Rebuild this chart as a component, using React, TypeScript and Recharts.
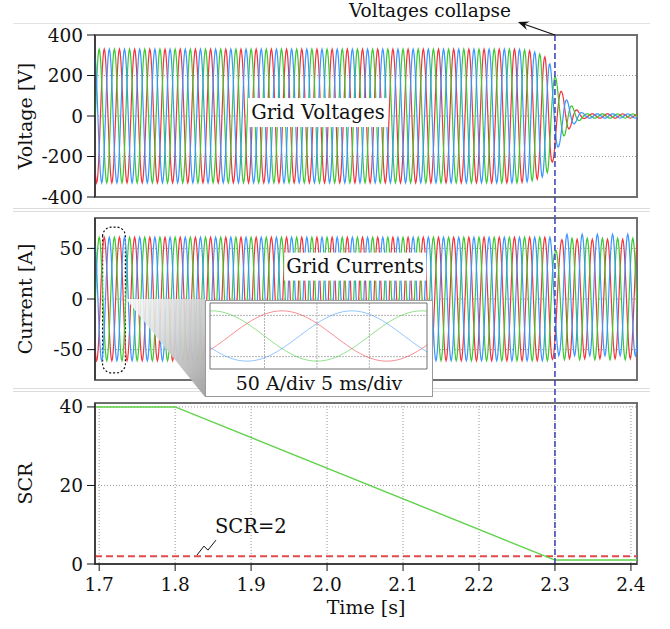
import {
  CartesianGrid,
  Line,
  LineChart,
  ReferenceArea,
  ReferenceDot,
  ReferenceLine,
  XAxis,
  YAxis,
} from "recharts";

const serif = "'DejaVu Serif', serif";
const red = "#f0353f";
const green = "#3cc832";
const blue = "#3a95ff";
const ink = "#111";
const gridGrey = "#9a9a9a";
const frameGrey = "#707070";
const dashBlue = "#3542b0";

// time axis
const tDomain: [number, number] = [1.6945, 2.408];
const timeTicks = [1.7, 1.8, 1.9, 2.0, 2.1, 2.2, 2.3, 2.4];
const voltTicks = [-400, -200, 0, 200, 400];
const currTicks = [-50, 0, 50];
const scrTicks = [0, 20, 40];
const collapseTime = 2.3;

// one 50 Hz cycle as a unit wave, 24 samples (green phase starts here, red +1/3, blue +2/3)
const cycleShape = [
  0, 0.259, 0.5, 0.707, 0.866, 0.966, 1, 0.966, 0.866, 0.707, 0.5, 0.259,
  0, -0.259, -0.5, -0.707, -0.866, -0.966, -1, -0.966, -0.866, -0.707, -0.5, -0.259,
];
const cycleStart = 1.695;
const cycleLen = 0.02;
const sampleCount = 860;

// voltage envelope
const voltEnvTime = [1.695, 2.25, 2.265, 2.275, 2.285, 2.29, 2.295, 2.3, 2.305, 2.31, 2.315, 2.32, 2.325, 2.33, 2.335, 2.34, 2.41];
const voltEnvAmp = [330, 330, 324, 314, 298, 280, 245, 200, 150, 112, 82, 58, 40, 27, 17, 11, 10];

// current envelopes per phase
const currEnvTime = [1.695, 2.296, 2.3, 2.305, 2.31, 2.316, 2.41];
const currRedAmp = [61, 61, 57, 58, 59, 59, 59];
const currGreenAmp = [61, 61, 47, 52, 60, 60, 60];
const currBlueAmp = [61, 61, 48, 58, 61, 60, 60];
const currBlueBias = [0, 0, 0, 2, 4, 4, 4];

// phase lag after the collapse, in samples of cycleShape
const lagTime = [1.695, 2.295, 2.31, 2.41];
const lagSamples = [0, 0, 3, 3];

// short circuit ratio
const scrTime = [1.695, 1.8, 2.3, 2.408];
const scrValue = [40, 40, 1, 1];
const scrLimit = 2;

function lerp(ts: number[], vs: number[], t: number) {
  if (t <= ts[0]) return vs[0];
  for (let i = 1; i < ts.length; i++) {
    if (t <= ts[i]) {
      const f = (t - ts[i - 1]) / (ts[i] - ts[i - 1]);
      return vs[i - 1] + (vs[i] - vs[i - 1]) * f;
    }
  }
  return vs[vs.length - 1];
}

function wave(pos: number) {
  const n = cycleShape.length;
  const i = Math.floor(pos);
  const f = pos - i;
  const a = cycleShape[((i % n) + n) % n];
  const b = cycleShape[(((i + 1) % n) + n) % n];
  return a + (b - a) * f;
}

const rows = Array.from({ length: sampleCount }, (_, k) => {
  const t = cycleStart + (k * cycleLen) / cycleShape.length;
  const p = k - lerp(lagTime, lagSamples, t);
  const va = lerp(voltEnvTime, voltEnvAmp, t);
  return {
    t,
    vGreen: va * wave(p),
    vRed: va * wave(p - 8),
    vBlue: va * wave(p - 16),
    iGreen: lerp(currEnvTime, currGreenAmp, t) * wave(p),
    iRed: lerp(currEnvTime, currRedAmp, t) * wave(p - 8),
    iBlue: lerp(currEnvTime, currBlueAmp, t) * wave(p - 16) + lerp(currEnvTime, currBlueBias, t),
  };
});

const insetRows = rows.filter((r) => r.t > 1.69 && r.t < 1.73);
const scrRows = scrTime.map((t, i) => ({ t, scr: scrValue[i] }));

const tickStyle = { fontFamily: serif, fontSize: 18.5, fill: ink };
const titleStyle = { fontFamily: serif, fontSize: 19, fill: ink };

function TextBox({ cx, cy, text, w, h }: { cx?: number; cy?: number; text: string; w: number; h: number }) {
  if (cx == null || cy == null) return null;
  return (
    <g>
      <rect x={cx - w / 2} y={cy - h / 2} width={w} height={h} fill="#fff" />
      <text x={cx} y={cy} textAnchor="middle" dominantBaseline="central" fontFamily={serif} fontSize={19.5} fill={ink}>
        {text}
      </text>
    </g>
  );
}

function CollapseNote({ cx, cy }: { cx?: number; cy?: number }) {
  if (cx == null || cy == null) return null;
  const dx = -37;
  const dy = -13;
  const len = Math.hypot(dx, dy);
  const ux = dx / len;
  const uy = dy / len;
  const tx = cx + dx;
  const ty = cy + dy;
  const head = [
    [tx, ty],
    [tx - 11 * ux + 4.5 * uy, ty - 11 * uy - 4.5 * ux],
    [tx - 7 * ux, ty - 7 * uy],
    [tx - 11 * ux - 4.5 * uy, ty - 11 * uy + 4.5 * ux],
  ];
  return (
    <g>
      <line x1={cx} y1={cy} x2={tx - 6 * ux} y2={ty - 6 * uy} stroke={ink} strokeWidth={1.3} />
      <polygon points={head.map((p) => p.join(",")).join(" ")} fill={ink} />
      <text x={cx - 44} y={cy - 18} textAnchor="end" fontFamily={serif} fontSize={18.5} fill={ink}>
        Voltages collapse
      </text>
    </g>
  );
}

function ScrNote({ cx, cy }: { cx?: number; cy?: number }) {
  if (cx == null || cy == null) return null;
  return (
    <g>
      <path
        d={`M${cx - 1},${cy - 1} L${cx + 6},${cy - 10} L${cx + 10},${cy - 6} L${cx + 18},${cy - 16}`}
        fill="none"
        stroke={ink}
        strokeWidth={1}
      />
      <text x={cx + 17} y={cy - 30} dominantBaseline="central" fontFamily={serif} fontSize={19.5} fill={ink}>
        SCR=2
      </text>
    </g>
  );
}

function Separator({ top }: { top: number }) {
  return (
    <>
      <div style={{ position: "absolute", left: 13, width: 637, top, height: 1, background: "#dcdcdc" }} />
      <div style={{ position: "absolute", left: 13, width: 637, top: top + 3, height: 1, background: "#dcdcdc" }} />
    </>
  );
}

export default function App() {
  return (
    <div style={{ position: "absolute", left: 0, top: 0, width: 670, height: 629, background: "#fff", overflow: "hidden" }}>
      <div style={{ position: "absolute", left: 13, width: 637, top: 23, height: 1, background: "#e2e2e2" }} />
      <Separator top={208} />
      <Separator top={388} />

      {/* voltages */}
      <div style={{ position: "absolute", left: 0, top: 0 }}>
        <LineChart width={670} height={218} data={rows} margin={{ top: 35, right: 33, bottom: 21, left: 0 }}>
          <CartesianGrid stroke={gridGrey} strokeDasharray="1 2" verticalValues={timeTicks} horizontalValues={voltTicks} />
          <XAxis dataKey="t" type="number" domain={tDomain} allowDataOverflow ticks={timeTicks} tick={false} tickLine={false} height={0} axisLine={{ stroke: ink }} />
          <YAxis
            type="number"
            domain={[-400, 400]}
            ticks={voltTicks}
            width={95}
            tick={tickStyle}
            tickSize={8}
            tickMargin={4}
            tickLine={{ stroke: ink }}
            axisLine={{ stroke: ink }}
            label={{ value: "Voltage [V]", angle: -90, position: "center", dx: -22, ...titleStyle }}
          />
          <ReferenceArea x1={tDomain[0]} x2={tDomain[1]} y1={-400} y2={400} fill="none" stroke={frameGrey} strokeWidth={2} />
          <Line dataKey="vRed" stroke={red} strokeWidth={1.2} dot={false} isAnimationActive={false} />
          <Line dataKey="vGreen" stroke={green} strokeWidth={1.2} dot={false} isAnimationActive={false} />
          <Line dataKey="vBlue" stroke={blue} strokeWidth={1.2} dot={false} isAnimationActive={false} />
          <ReferenceLine
            segment={[{ x: collapseTime, y: 400 }, { x: collapseTime, y: -504 }]}
            ifOverflow="visible"
            stroke={dashBlue}
            strokeWidth={1.5}
            strokeDasharray="6 3"
          />
          <ReferenceDot x={1.988} y={17} r={0} shape={(p: any) => <TextBox {...p} text="Grid Voltages" w={140} h={29} />} />
          <ReferenceDot x={collapseTime} y={400} r={0} shape={(p: any) => <CollapseNote {...p} />} />
        </LineChart>
      </div>

      {/* currents */}
      <div style={{ position: "absolute", left: 0, top: 197 }}>
        <LineChart width={670} height={206} data={rows} margin={{ top: 21, right: 33, bottom: 23, left: 0 }}>
          <CartesianGrid stroke={gridGrey} strokeDasharray="1 2" verticalValues={timeTicks} horizontalValues={currTicks} />
          <XAxis dataKey="t" type="number" domain={tDomain} allowDataOverflow ticks={timeTicks} tick={false} tickLine={false} height={0} axisLine={{ stroke: ink }} />
          <YAxis
            type="number"
            domain={[-80, 80]}
            ticks={currTicks}
            width={95}
            tick={tickStyle}
            tickSize={8}
            tickMargin={4}
            tickLine={{ stroke: ink }}
            axisLine={{ stroke: ink }}
            label={{ value: "Current [A]", angle: -90, position: "center", dx: -22, ...titleStyle }}
          />
          <ReferenceArea x1={tDomain[0]} x2={tDomain[1]} y1={-80} y2={80} fill="none" stroke={frameGrey} strokeWidth={2} />
          <Line dataKey="iRed" stroke={red} strokeWidth={1.2} dot={false} isAnimationActive={false} />
          <Line dataKey="iGreen" stroke={green} strokeWidth={1.2} dot={false} isAnimationActive={false} />
          <Line dataKey="iBlue" stroke={blue} strokeWidth={1.2} dot={false} isAnimationActive={false} />
          <ReferenceArea x1={1.7045} x2={1.7345} y1={-73} y2={71} fill="none" stroke={ink} strokeWidth={1.2} strokeDasharray="2 2" radius={9} />
          <ReferenceLine
            segment={[{ x: collapseTime, y: 80 }, { x: collapseTime, y: -103 }]}
            ifOverflow="visible"
            stroke={dashBlue}
            strokeWidth={1.5}
            strokeDasharray="6 3"
          />
          <ReferenceDot x={2.037} y={32} r={0} shape={(p: any) => <TextBox {...p} text="Grid Currents" w={142} h={28} />} />
        </LineChart>
      </div>

      {/* zoom wedge */}
      <svg width={670} height={629} style={{ position: "absolute", left: 0, top: 0, pointerEvents: "none" }}>
        <defs>
          <linearGradient id="wedge" x1="0" y1="0" x2="1" y2="1">
            <stop offset="0%" stopColor="#ffffff" stopOpacity={0.85} />
            <stop offset="100%" stopColor="#a4a4a4" stopOpacity={1} />
          </linearGradient>
        </defs>
        <polygon points="126,299 205,299 205,397" fill="url(#wedge)" />
      </svg>

      {/* inset */}
      <div
        style={{
          position: "absolute",
          left: 205,
          top: 300,
          width: 228,
          height: 97,
          boxSizing: "border-box",
          border: "1px solid #9a9a9a",
          background: "#fff",
        }}
      >
        <LineChart width={226} height={95} data={insetRows} margin={{ top: 2, right: 5, bottom: 27, left: 4 }}>
          <CartesianGrid stroke="#b4b4b4" strokeDasharray="2 1" verticalValues={[1.705, 1.71, 1.715]} horizontalValues={[-50, 0, 50]} />
          <XAxis dataKey="t" type="number" domain={[1.6998, 1.7205]} allowDataOverflow hide />
          <YAxis type="number" domain={[-80, 80]} hide />
          <ReferenceArea x1={1.6998} x2={1.7205} y1={-80} y2={80} fill="none" stroke={frameGrey} strokeWidth={1} />
          <Line dataKey="iRed" type="monotone" stroke={red} strokeOpacity={0.55} strokeWidth={1} dot={false} isAnimationActive={false} />
          <Line dataKey="iGreen" type="monotone" stroke={green} strokeOpacity={0.55} strokeWidth={1} dot={false} isAnimationActive={false} />
          <Line dataKey="iBlue" type="monotone" stroke={blue} strokeOpacity={0.55} strokeWidth={1} dot={false} isAnimationActive={false} />
        </LineChart>
        <div
          style={{
            position: "absolute",
            left: 0,
            right: 0,
            top: 68,
            textAlign: "center",
            fontFamily: serif,
            fontSize: 19,
            color: ink,
            lineHeight: "28px",
          }}
        >
          50 A/div 5 ms/div
        </div>
      </div>

      {/* short circuit ratio */}
      <div style={{ position: "absolute", left: 0, top: 388 }}>
        <LineChart width={670} height={241} data={scrRows} margin={{ top: 15, right: 33, bottom: 0, left: 0 }}>
          <CartesianGrid stroke={gridGrey} strokeDasharray="1 2" verticalValues={timeTicks} horizontalValues={scrTicks} />
          <XAxis
            dataKey="t"
            type="number"
            domain={tDomain}
            allowDataOverflow
            ticks={timeTicks}
            tickFormatter={(v: number) => v.toFixed(1)}
            height={65}
            tick={tickStyle}
            tickSize={7}
            tickMargin={7}
            tickLine={{ stroke: ink }}
            axisLine={{ stroke: ink }}
            label={{ value: "Time [s]", position: "center", dy: 11, ...titleStyle }}
          />
          <YAxis
            type="number"
            domain={[0, 41]}
            ticks={scrTicks}
            width={95}
            tick={tickStyle}
            tickSize={8}
            tickMargin={4}
            tickLine={{ stroke: ink }}
            axisLine={{ stroke: ink }}
            label={{ value: "SCR", angle: -90, position: "center", dx: -22, ...titleStyle }}
          />
          <ReferenceArea x1={tDomain[0]} x2={tDomain[1]} y1={0} y2={41} fill="none" stroke={frameGrey} strokeWidth={2} />
          <ReferenceLine y={scrLimit} stroke="#e04a4a" strokeWidth={2} strokeDasharray="7 4" />
          <Line dataKey="scr" type="linear" stroke="#5fd24a" strokeWidth={1.4} dot={false} isAnimationActive={false} />
          <ReferenceLine x={collapseTime} stroke={dashBlue} strokeWidth={1.5} strokeDasharray="6 3" />
          <ReferenceDot x={1.83} y={scrLimit} r={0} shape={(p: any) => <ScrNote {...p} />} />
        </LineChart>
      </div>
    </div>
  );
}
